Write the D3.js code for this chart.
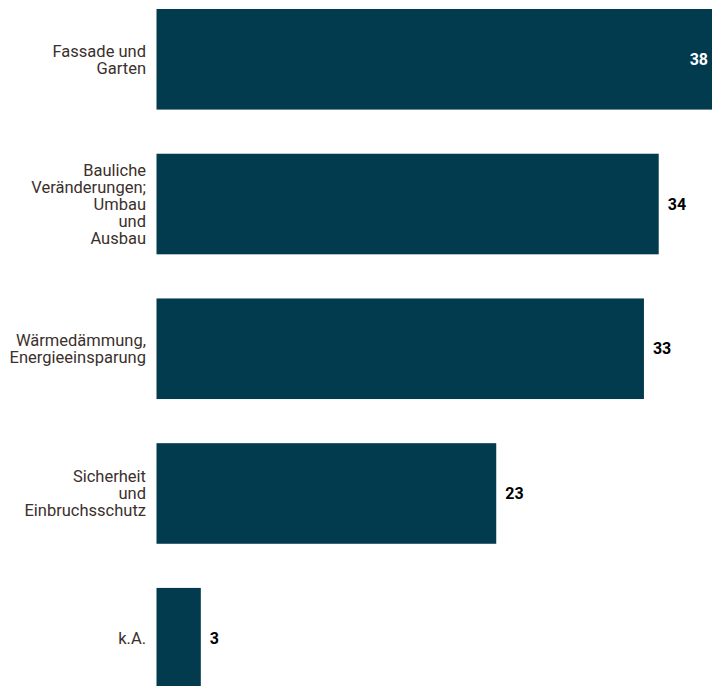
<!DOCTYPE html>
<html>
<head>
<meta charset="utf-8">
<script src="https://cdn.jsdelivr.net/npm/d3@7"></script>
<style>
  html, body { margin: 0; padding: 0; background: #fff; }
  svg { display: block; font-family: Roboto, "Noto Sans", sans-serif; }
</style>
</head>
<body>
<div id="chart"></div>
<script>
// Kategorien (mit Zeilenumbrüchen wie im Original)
const categories = [
    ["Fassade und", "Garten"],
    ["Bauliche", "Veränderungen;", "Umbau", "und", "Ausbau"],
    ["Wärmedämmung,", "Energieeinsparung"],
    ["Sicherheit", "und", "Einbruchsschutz"],
    ["k.A."]
];
const values = [38, 34, 33, 23, 3];

const width = 712;
const height = 686;

const svg = d3.select("#chart").append("svg")
    .attr("width", width)
    .attr("height", height);

const data = categories.map((c, i) => ({ label: c, value: values[i], key: i }));

// x scale - 1 Einheit ca. 14.77 px
const x = d3.scaleLinear()
    .domain([0, 38])
    .range([156.5, 717.8]);

// y scale (band)
const y = d3.scaleBand()
    .domain(data.map(d => d.key))
    .range([9, 688.5])
    .paddingInner(0.305)
    .paddingOuter(0);

// Balken
svg.selectAll(".bar")
    .data(data)
    .enter().append("rect")
    .attr("class", "bar")
    .attr("x", x(0))
    .attr("y", d => y(d.key))
    .attr("width", d => x(d.value) - x(0))
    .attr("height", y.bandwidth())
    .attr("fill", "#023a4e");

// Kategorie-Beschriftungen
const lineH = 17;
svg.selectAll(".cat")
    .data(data)
    .enter().append("text")
    .attr("class", "cat")
    .attr("text-anchor", "end")
    .attr("fill", "#3b302c")
    .style("font-size", "16.5px")
    .each(function(d) {
        const n = d.label.length;
        const cy = y(d.key) + y.bandwidth() / 2;
        d3.select(this).selectAll("tspan")
            .data(d.label)
            .enter().append("tspan")
            .attr("x", 146)
            .attr("y", (t, i) => cy + (i - (n - 1) / 2) * lineH)
            .attr("dy", "0.35em")
            .text(t => t);
    });

// Wertebeschriftungen
svg.selectAll(".val")
    .data(data)
    .enter().append("text")
    .attr("class", "val")
    .attr("x", d => x(d.value) > width - 40 ? width - 4 : x(d.value) + 9)
    .attr("y", d => y(d.key) + y.bandwidth() / 2)
    .attr("dy", "0.35em")
    .attr("text-anchor", d => x(d.value) > width - 40 ? "end" : "start")
    .attr("fill", d => x(d.value) > width - 40 ? "#fff" : "#000")
    .style("font-size", "16px")
    .style("font-weight", "bold")
    .text(d => d.value);
</script>
</body>
</html>
